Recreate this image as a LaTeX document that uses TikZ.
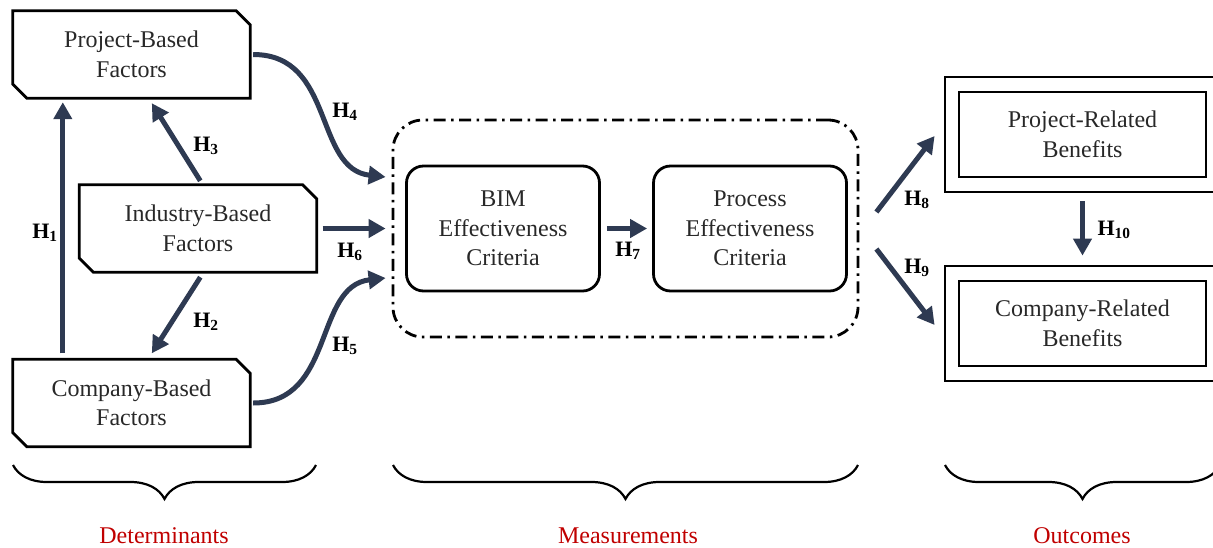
\documentclass[tikz,border=0pt]{standalone}
\usepackage{fontspec}
\setmainfont{Liberation Serif}
\usetikzlibrary{arrows.meta,decorations.pathreplacing}
\definecolor{navy}{RGB}{46,58,82}
\definecolor{txt}{RGB}{40,40,40}
\definecolor{lblred}{RGB}{192,0,0}
\newcommand\chamfbox[1]{\draw[outline] (#1.north west) -- ([xshift=-14pt]#1.north east) -- ([yshift=-14pt]#1.north east) -- (#1.south east) -- ([xshift=14pt]#1.south west) -- ([yshift=14pt]#1.south west) -- cycle;}
\begin{document}
\begin{tikzpicture}[x=1pt,y=-1pt,
  bodyfont/.style={font=\fontsize{24}{29.5}\selectfont, text=txt},
  fac/.style={bodyfont, inner sep=0pt, minimum width=237pt, minimum height=87pt, align=center},
  outline/.style={line width=2.8pt, line join=miter},
  crit/.style={bodyfont, draw, line width=2.8pt, rounded corners=17pt, minimum width=193pt, minimum height=125pt, align=center, inner sep=0pt},
  benout/.style={draw, line width=2.8pt, minimum width=275pt, minimum height=115pt, inner sep=0pt},
  benin/.style={bodyfont, draw, line width=2.8pt, minimum width=247pt, minimum height=85pt, align=center, inner sep=0pt},
  harr/.style={draw=navy, line width=5pt, -{Triangle[length=17pt,width=18pt]}},
  hlab/.style={font=\fontsize{22}{26}\selectfont\bfseries, text=black, inner sep=0pt},
  brc/.style={decorate, decoration={brace, amplitude=34pt}, line width=2.2pt},
  grp/.style={font=\fontsize{24}{28}\selectfont, text=lblred, inner sep=0pt}
]
\useasboundingbox (0,0) rectangle (1213,547);

% determinants
\node[fac] (pbf) at (131.5,54.5) {Project-Based\\Factors};
\node[fac] (ibf) at (198,228.5) {Industry-Based\\Factors};
\node[fac] (cbf) at (131.5,403) {Company-Based\\Factors};
\chamfbox{pbf}
\chamfbox{ibf}
\chamfbox{cbf}

% measurements
\node[draw, line width=2.8pt, dash pattern=on 12pt off 5.5pt on 2.5pt off 5.5pt, rounded corners=30pt, minimum width=465pt, minimum height=217pt, inner sep=0pt] (meas) at (625.5,228.5) {};
\node[crit] (bim) at (503,228.5) {BIM\\Effectiveness\\Criteria};
\node[crit] (pec) at (750,228.5) {Process\\Effectiveness\\Criteria};

% outcomes
\node[benout] (prbo) at (1082.5,134.5) {};
\node[benin] (prb) at (1082.5,134.5) {Project-Related\\Benefits};
\node[benout] (crbo) at (1082.5,323.5) {};
\node[benin] (crb) at (1082.5,323.5) {Company-Related\\Benefits};

% arrows
\draw[harr] ([xshift=50pt,yshift=6pt]cbf.north west) -- ([xshift=50pt,yshift=-4pt]pbf.south west);
\draw[harr] ([xshift=121pt,yshift=4pt]ibf.north west) -- ([xshift=139pt,yshift=-5pt]pbf.south west);
\draw[harr] ([xshift=121pt,yshift=-5pt]ibf.south west) -- ([xshift=139pt,yshift=6pt]cbf.north west);
\draw[harr] ([xshift=6pt]ibf.east) -- ([xshift=-6pt]meas.west);
\draw[harr] ([xshift=3pt]pbf.east) .. controls +(82,0) and +(-72,-8) .. ([xshift=-6pt,yshift=51.5pt]meas.west);
\draw[harr] ([xshift=3pt]cbf.east) .. controls +(82,0) and +(-72,8) .. ([xshift=-6pt,yshift=-49.5pt]meas.west);
\draw[harr] ([xshift=6pt]bim.east) -- ([xshift=-5pt]pec.west);
\draw[harr] ([xshift=17pt,yshift=16.5pt]meas.east) -- ([xshift=-9pt,yshift=-1.5pt]prbo.west);
\draw[harr] ([xshift=17pt,yshift=-20.5pt]meas.east) -- ([xshift=-9pt,yshift=-1.5pt]crbo.west);
\draw[harr] ([yshift=-8pt]prbo.south) -- ([yshift=9pt]crbo.north);

% labels
\node[hlab] (h1) at (45,233) {H\textsubscript{1}};
\node[hlab] (h2) at (206,322) {H\textsubscript{2}};
\node[hlab] (h3) at (206,146) {H\textsubscript{3}};
\node[hlab] (h4) at (345,112) {H\textsubscript{4}};
\node[hlab] (h5) at (345,346) {H\textsubscript{5}};
\node[hlab] (h6) at (350,252) {H\textsubscript{6}};
\node[hlab] (h7) at (628,251) {H\textsubscript{7}};
\node[hlab] (h8) at (917,200) {H\textsubscript{8}};
\node[hlab] (h9) at (917,268) {H\textsubscript{9}};
\node[hlab] (h10) at (1114,230) {H\textsubscript{10}};

% braces
\coordinate (b1r) at (316,465);
\coordinate (b1l) at (13,465);
\coordinate (b2r) at (858,465);
\coordinate (b2l) at (393,465);
\coordinate (b3r) at (1220,465);
\coordinate (b3l) at (945,465);
\draw[brc] (b1r) -- (b1l);
\draw[brc] (b2r) -- (b2l);
\draw[brc] (b3r) -- (b3l);
\node[grp] (det) at (164,536) {Determinants};
\node[grp] (mea) at (628,536) {Measurements};
\node[grp] (out) at (1082,536) {Outcomes};
\end{tikzpicture}
\end{document}
